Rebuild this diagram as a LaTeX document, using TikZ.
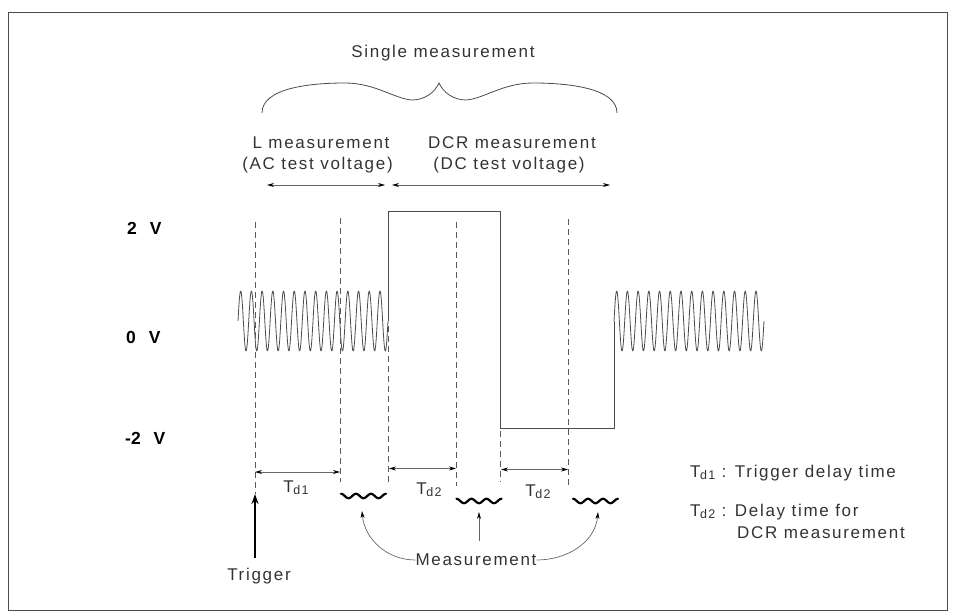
\documentclass[tikz,border=0pt]{standalone}
\usepackage{fontspec}
\setmainfont{Liberation Sans}[LetterSpace=10]
\newfontfamily\voltfont{Liberation Sans}
\usetikzlibrary{arrows.meta}
\newcommand\tdsub[1]{T\kern-0.5pt\raisebox{-2pt}{\fontsize{12.5}{12.5}\selectfont d#1}}
\begin{document}
\begin{tikzpicture}[x=1pt,y=-1pt,
  txt/.style={font=\fontsize{17}{20}\selectfont, text=black!80, inner sep=0pt},
  volt/.style={font=\voltfont\bfseries\fontsize{17.5}{20}\selectfont, inner sep=0pt, anchor=west},
  wave/.style={draw=black!70, line width=0.8pt},
  guide/.style={draw=black!65, line width=0.7pt, dash pattern=on 6pt off 4pt},
  dim/.style={draw=black!60, line width=0.7pt, {Stealth[length=7pt,width=4pt,black]}-{Stealth[length=7pt,width=4pt,black]}},
  pointer/.style={draw=black!60, line width=0.7pt, -{Stealth[length=7pt,width=4pt,black]}},
  trigarrow/.style={draw=black, line width=2.2pt, -{Stealth[length=10pt,width=7pt]}},
  squig/.style={draw=black, line width=2.2pt, line cap=round},
  bracestyle/.style={draw=black!70, line width=0.8pt},
  frame/.style={draw=black!70, line width=0.8pt}]
\useasboundingbox (0,0) rectangle (956,612);
\draw[frame] (8,12) rectangle (947,610);

% top labels and brace
\node[txt] (single) at (443,53) {Single measurement};
\draw[bracestyle] (262,113) .. controls (262,88) and (310,83) .. (345,83)
  .. controls (375,83) and (395,99) .. (412,100)
  .. controls (425,100) and (435,92) .. (439,83)
  .. controls (443,92) and (453,100) .. (466,100)
  .. controls (483,99) and (503,83) .. (533,83)
  .. controls (568,83) and (617,88) .. (617,113);
\node[txt] (lmeas) at (321,143) {L measurement};
\node[txt] (lac) at (317.5,165) {(AC test voltage)};
\node[txt] (dcrmeas) at (512,143) {DCR measurement};
\node[txt] (dcv) at (509,165) {(DC test voltage)};
\coordinate (la) at (267,185);
\coordinate (lb) at (385,185);
\coordinate (ra) at (392,185);
\coordinate (rb) at (610,185);
\draw[dim] (la) -- (lb);
\draw[dim] (ra) -- (rb);

% voltage labels
\node[volt] (v2) at (127,228) {2\hspace{13pt}V};
\node[volt] (v0) at (126,337) {0\hspace{13pt}V};
\node[volt] (vm2) at (125,438) {-2\hspace{13pt}V};

% waveform
\draw[wave] plot[domain=238:388, samples=421, smooth] (\x,{321-30*sin(33.6*(\x-238))});
\draw[wave] (388,321) -- (388,211) -- (500,211) -- (500,428) -- (614,428) -- (614,321);
\draw[wave] plot[domain=614:764, samples=421, smooth] (\x,{321-30*sin(33.6*(\x-614))});

% dashed guides
\coordinate (g0t) at (255,222); \coordinate (g0b) at (255,494);
\coordinate (g1t) at (340,218); \coordinate (g1b) at (340,482);
\coordinate (g2t) at (388,326); \coordinate (g2b) at (388,482);
\coordinate (g3t) at (456,222); \coordinate (g3b) at (456,486);
\coordinate (g4t) at (500,431); \coordinate (g4b) at (500,482);
\coordinate (g5t) at (568,219); \coordinate (g5b) at (568,486);
\foreach \i in {0,...,5} \draw[guide] (g\i t) -- (g\i b);

% delay arrows
\coordinate (d1a) at (255,472); \coordinate (d1b) at (340,472);
\coordinate (d2a) at (389,468.5); \coordinate (d2b) at (456,468.5);
\coordinate (d3a) at (501,469.5); \coordinate (d3b) at (568,469.5);
\draw[dim] (d1a) -- (d1b);
\draw[dim] (d2a) -- (d2b);
\draw[dim] (d3a) -- (d3b);
\node[txt] (td1) at (296,488) {\tdsub{1}};
\node[txt] (td2) at (429,490) {\tdsub{2}};
\node[txt] (td3) at (538,492) {\tdsub{2}};

% measurement squiggles
\foreach \mx/\my in {341/496, 456.5/501, 573/501}
  \draw[squig] plot[domain=0:45, samples=60, smooth] ({\mx+\x},{\my-2.2*cos(24*\x)});
\coordinate (m1) at (362,511);
\coordinate (m2) at (479,512);
\coordinate (m3) at (598,512);

% measurement label and pointers
\node[txt] (meas) at (476,560) {Measurement};
\coordinate (mbase) at (479,541);
\draw[pointer] (meas.west) to[out=180,in=-85] (m1);
\draw[pointer] (mbase) -- (m2);
\draw[pointer] (meas.east) to[out=0,in=-95] (m3);

% trigger
\coordinate (trigbase) at (255,558);
\draw[trigarrow] (trigbase) -- (g0b);
\node[txt] (trig) at (259,576) {Trigger};

% legend
\node[txt, anchor=west] (leg1) at (690,473) {\tdsub{1} : Trigger delay time};
\node[txt, anchor=west] (leg2) at (690,512) {\tdsub{2} : Delay time for};
\node[txt, anchor=west] (leg3) at (737,533) {DCR measurement};
\end{tikzpicture}
\end{document}
